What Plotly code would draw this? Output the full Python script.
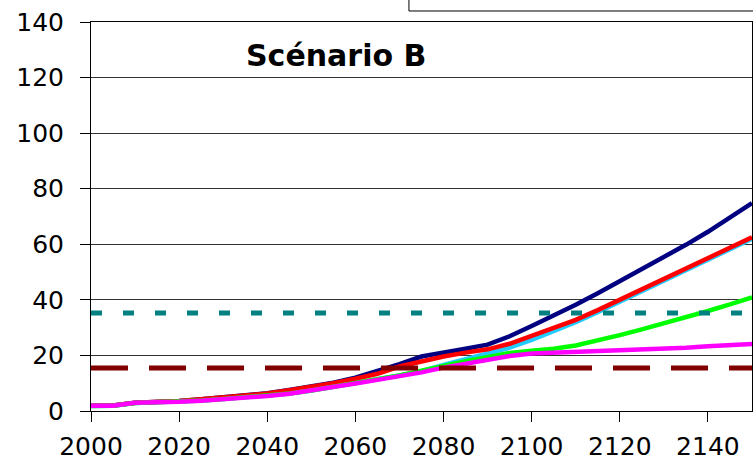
import plotly.graph_objects as go

# Years sampled every five years
years = [2000, 2005, 2010, 2015, 2020, 2025, 2030, 2035, 2040, 2045,
         2050, 2055, 2060, 2065, 2070, 2075, 2080, 2085, 2090, 2095,
         2100, 2105, 2110, 2115, 2120, 2125, 2130, 2135, 2140, 2145, 2150]

navy_vals = [1.9, 2.0, 3.0, 3.2, 3.6, 4.2, 4.9, 5.6, 6.4, 7.6,
             8.8, 10.2, 12.0, 14.3, 16.9, 19.6, 21.2, 22.4, 23.9, 26.9,
             30.6, 34.3, 38.2, 42.4, 46.7, 51.0, 55.4, 59.8, 64.5, 69.5, 74.8]
red_vals = [1.9, 2.0, 3.0, 3.2, 3.6, 4.2, 4.9, 5.6, 6.3, 7.5,
            8.7, 10.0, 11.6, 13.4, 16.0, 18.0, 19.6, 21.0, 22.2, 24.2,
            27.0, 29.7, 32.8, 36.3, 40.0, 43.6, 47.3, 51.0, 54.8, 58.6, 62.5]
cyan_vals = [1.8, 1.9, 2.9, 3.1, 3.4, 3.8, 4.3, 4.9, 5.5, 6.3,
             7.4, 8.6, 10.0, 11.4, 12.8, 14.3, 16.6, 18.6, 20.6, 22.8,
             25.6, 28.7, 32.0, 35.6, 39.4, 43.1, 46.8, 50.6, 54.4, 58.2, 62.0]
green_vals = [1.8, 1.9, 2.9, 3.1, 3.4, 3.8, 4.3, 4.9, 5.5, 6.3,
              7.4, 8.6, 10.0, 11.4, 12.8, 14.3, 16.2, 17.9, 19.5, 20.9,
              21.7, 22.4, 23.6, 25.3, 27.3, 29.4, 31.5, 33.7, 36.0, 38.4, 40.9]
magenta_vals = [1.9, 1.9, 3.0, 3.1, 3.3, 3.7, 4.2, 4.8, 5.4, 6.2,
                7.3, 8.5, 9.9, 11.2, 12.5, 13.9, 15.6, 17.1, 18.5, 19.8,
                20.7, 21.0, 21.1, 21.3, 21.6, 22.0, 22.4, 22.8, 23.3, 23.7, 24.1]

# Horizontal reference levels
span_years = [2000, 2150]
upper_level = 35.3
lower_level = 15.5

x_ticks = [2000, 2020, 2040, 2060, 2080, 2100, 2120, 2140]
y_ticks = [0, 20, 40, 60, 80, 100, 120, 140]

fig = go.Figure()

series = [
    (navy_vals, "#000080"),
    (cyan_vals, "#22CCFF"),
    (red_vals, "#FF0000"),
    (green_vals, "#00FF00"),
    (magenta_vals, "#FF00FF"),
]
for vals, color in series:
    fig.add_trace(go.Scatter(x=years, y=vals, mode="lines",
                             line=dict(color=color, width=4.5),
                             showlegend=False, hoverinfo="skip"))

fig.add_trace(go.Scatter(x=span_years, y=[upper_level] * 2, mode="lines",
                         line=dict(color="#008080", width=5, dash="11px,21px"),
                         showlegend=False, hoverinfo="skip"))
fig.add_trace(go.Scatter(x=span_years, y=[lower_level] * 2, mode="lines",
                         line=dict(color="#800000", width=5, dash="37px,21px"),
                         showlegend=False, hoverinfo="skip"))

tick_font = dict(family="DejaVu Sans", size=25, color="black")

fig.update_layout(
    width=753, height=462,
    margin=dict(l=91, r=1, t=22, b=51),
    paper_bgcolor="white", plot_bgcolor="white",
    xaxis=dict(range=[2000, 2150], tickvals=x_ticks,
               ticktext=[str(v) for v in x_ticks],
               ticks="outside", ticklen=10, tickcolor="black", tickwidth=1,
               showline=True, linecolor="black", linewidth=1, mirror=True,
               showgrid=False, zeroline=False, tickfont=tick_font,
               ticklabelstandoff=3, automargin=False),
    yaxis=dict(range=[0, 140], tickvals=y_ticks,
               ticks="outside", ticklen=10, tickcolor="black", tickwidth=1,
               showline=True, linecolor="black", linewidth=1, mirror=True,
               showgrid=True, gridcolor="#333333", gridwidth=1,
               zeroline=False, tickfont=tick_font, ticklabelstandoff=11,
               automargin=False),
    annotations=[dict(text="<b>Scénario B</b>", x=2055.5, y=128.0,
                      xref="x", yref="y", showarrow=False,
                      xanchor="center", yanchor="middle",
                      font=dict(family="DejaVu Sans", size=30, color="black"))],
    shapes=[dict(type="rect", xref="paper", yref="paper",
                 x0=0.481, x1=1.1, y0=1.0283, y1=1.2,
                 line=dict(color="black", width=1), fillcolor="white",
                 layer="above")],
)

fig.write_html("out.html")
